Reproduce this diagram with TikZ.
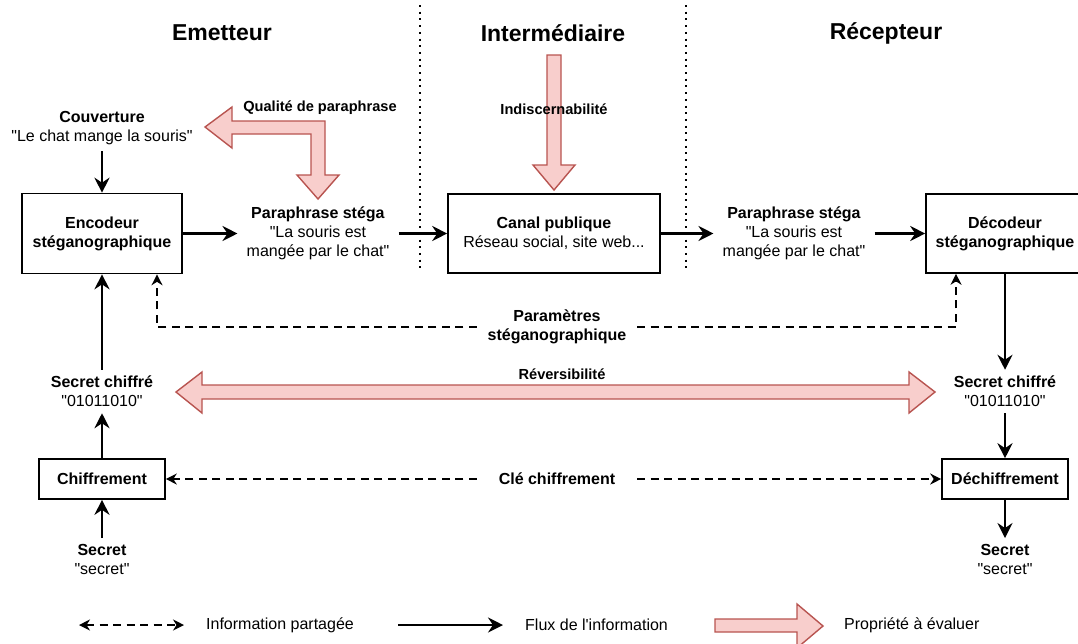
\documentclass[tikz,border=0pt]{standalone}
\usepackage{fontspec}
\setmainfont{Liberation Sans}[Ligatures=TeXOff]
\usetikzlibrary{arrows.meta}
\definecolor{pinkfill}{HTML}{F8CECC}
\definecolor{pinkline}{HTML}{B85450}
\newcommand\bodyf{\fontsize{16}{19.2}\selectfont}
\newcommand\titlef{\fontsize{23}{27}\selectfont\bfseries}
\newcommand\labf{\fontsize{14.6}{17.5}\selectfont\bfseries}
\begin{document}
\begin{tikzpicture}[x=1pt,y=-1pt,
 box/.style={draw, line width=1.6pt, align=center, font=\bodyf\bfseries, inner sep=0pt},
 txt/.style={align=center, font=\bodyf, inner xsep=9pt, inner ysep=6pt},
 ttl/.style={font=\titlef},
 lab/.style={font=\labf},
 flow/.style={line width=2.7pt, -{Stealth[length=15pt,width=15pt,inset=5pt]}},
 shared/.style={line width=1.4pt, dash pattern=on 8pt off 5.5pt},
 tipd/.style={-{Stealth[length=11pt,width=11pt,inset=3.5pt]}},
 tipdd/.style={{Stealth[length=11pt,width=11pt,inset=3.5pt]}-{Stealth[length=11pt,width=11pt,inset=3.5pt]}},
 prop/.style={draw=pinkline, fill=pinkfill, line width=1.4pt, line join=miter},
 sepline/.style={line width=2pt, dash pattern=on 2pt off 4.7pt}
]
\useasboundingbox (0,0) rectangle (1078,643);

% separators
\draw[sepline] (420,5) -- (420,270);
\draw[sepline] (686,5) -- (686,270);

% titles
\node[ttl] (t1) at (222,33) {Emetteur};
\node[ttl] (t2) at (553,33) {Intermédiaire};
\node[ttl] (t3) at (886,33) {Récepteur};

% boxes
\node[box, minimum width=160pt, minimum height=80pt] (enc) at (102,233.5) {Encodeur\\stéganographique};
\node[box, minimum width=212pt, minimum height=79pt, font=\bodyf] (canal) at (554,233.5) {\textbf{Canal publique}\\Réseau social, site web...};
\node[box, minimum width=158pt, minimum height=79pt] (dec) at (1005,233.5) {Décodeur\\stéganographique};
\node[box, minimum width=126pt, minimum height=40pt] (chif) at (102,479) {Chiffrement};
\node[box, minimum width=126pt, minimum height=40pt] (dechif) at (1005,479) {Déchiffrement};

% texts
\node[txt] (couv) at (102,128) {\textbf{Couverture}\\"Le chat mange la souris"};
\node[txt] (para1) at (318,233.5) {\textbf{Paraphrase stéga}\\"La souris est\\mangée par le chat"};
\node[txt] (para2) at (794,233.5) {\textbf{Paraphrase stéga}\\"La souris est\\mangée par le chat"};
\node[txt] (sc1) at (102,391.5) {\textbf{Secret chiffré}\\"01011010"};
\node[txt] (sc2) at (1005,391.5) {\textbf{Secret chiffré}\\"01011010"};
\node[txt] (s1) at (102,559.5) {\textbf{Secret}\\"secret"};
\node[txt] (s2) at (1005,559.5) {\textbf{Secret}\\"secret"};
\node[txt, font=\bodyf\bfseries, minimum width=160pt, inner xsep=0pt] (params) at (557,327) {Paramètres\\stéganographique};
\node[txt, font=\bodyf\bfseries, minimum width=160pt, inner xsep=0pt] (cle) at (557,479) {Clé chiffrement};

% property arrows
\draw[prop] (205,127) -- (232,107) -- (232,121) -- (325,121) -- (325,175) -- (339,175) -- (318,199) -- (297,175) -- (311,175) -- (311,134) -- (232,134) -- (232,148) -- cycle;
\draw[prop] (547,55) -- (561,55) -- (561,165) -- (575,165) -- (554,190) -- (533,165) -- (547,165) -- cycle;
\draw[prop] (176,392) -- (202,372) -- (202,385) -- (909,385) -- (909,372) -- (935,392) -- (909,413) -- (909,399) -- (202,399) -- (202,413) -- cycle;

\node[lab] (lq) at (320,108) {Qualité de paraphrase};
\node[lab] (li) at (554,109) {Indiscernabilité};
\node[lab] (lr) at (562,374) {Réversibilité};

% flows
\draw[flow] (couv) -- (enc);
\draw[flow] (enc) -- (para1);
\draw[flow] (para1) -- (canal);
\draw[flow] (canal) -- (para2);
\draw[flow] (para2) -- (dec);
\draw[flow] (sc1) -- (enc);
\draw[flow] (chif) -- (sc1);
\draw[flow] (s1) -- (chif);
\draw[flow] (dec) -- (sc2);
\draw[flow] (sc2) -- (dechif);
\draw[flow] (dechif) -- (s2);

% shared information
\draw[shared, tipd] (params.west) -| ([xshift=55pt]enc.south);
\draw[shared, tipd] (params.east) -| ([xshift=-49pt]dec.south);
\draw[shared, tipd] (cle.west) -- (chif.east);
\draw[shared, tipd] (cle.east) -- (dechif.west);

% legend
\coordinate (la) at (79,625);
\coordinate (lb) at (184,625);
\draw[shared, tipdd] (la) -- (lb);
\node[anchor=west, font=\bodyf, inner sep=0pt] (lt1) at (206,625) {Information partagée};
\coordinate (lc) at (398,625);
\coordinate (ld) at (503,625);
\draw[flow] (lc) -- (ld);
\node[anchor=west, font=\bodyf, inner sep=0pt] (lt2) at (525,625) {Flux de l'information};
\draw[prop] (715,619) -- (797,619) -- (797,604) -- (823,626) -- (797,648) -- (797,632) -- (715,632) -- cycle;
\node[anchor=west, font=\bodyf, inner sep=0pt] (lt3) at (844,625) {Propriété à évaluer};
\end{tikzpicture}
\end{document}
